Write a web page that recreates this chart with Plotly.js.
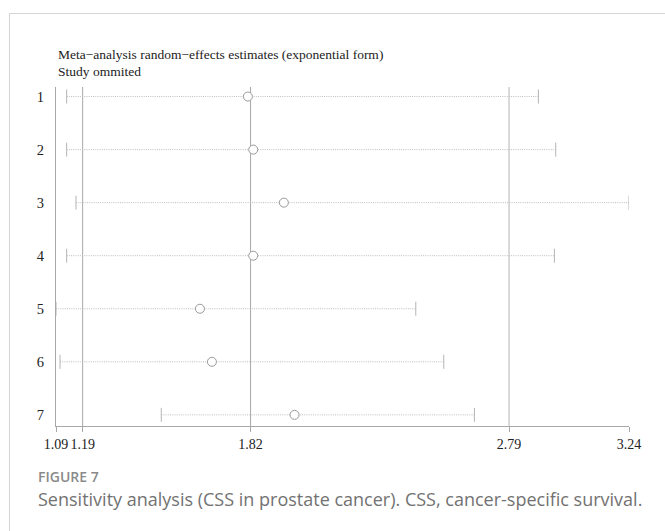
<!DOCTYPE html>
<html>
<head>
<meta charset="utf-8">
<script src="https://cdn.plot.ly/plotly-3.0.1.min.js"></script>
<style>
  html, body { margin: 0; padding: 0; background: #fff; }
  #frame { position: absolute; left: 9px; top: 13px; width: 680px; height: 540px;
           border-left: 1.5px solid #d4d4d4; border-top: 1.5px solid #d4d4d4; }
  #chart { position: absolute; left: 0; top: 0; width: 665px; height: 531px; }
</style>
</head>
<body>
<div id="frame"></div>
<div id="chart"></div>
<script>
// Study omitted (row labels)
const studies = [1, 2, 3, 4, 5, 6, 7];
// Pooled estimate when each study is omitted (exponential form)
const estimate = [1.81, 1.83, 1.945, 1.83, 1.63, 1.675, 1.985];
const lowerCI  = [1.13, 1.13, 1.165, 1.13, 1.09, 1.105, 1.485];
const upperCI  = [2.90, 2.965, 3.24, 2.96, 2.44, 2.545, 2.66];
// Overall combined estimate: lower CI, estimate, upper CI
const overall = [1.19, 1.82, 2.79];
// Axis ticks
const xTickVals = [1.09, 1.19, 1.82, 2.79, 3.24];
const xTickText = ["1.09", "1.19", "1.82", "2.79", "3.24"];

const ciX = [], ciY = [];
studies.forEach((s, i) => { ciX.push(lowerCI[i], upperCI[i], null); ciY.push(s, s, null); });

const serif = "Liberation Serif, serif";
const sans = "Open Sans, sans-serif";

const traces = [
  { x: ciX, y: ciY, mode: "lines", type: "scatter", hoverinfo: "skip",
    line: { color: "#bdbdbd", width: 1, dash: "1px,1.2px" } },
  { x: lowerCI.concat(upperCI), y: studies.concat(studies), mode: "markers", type: "scatter",
    marker: { symbol: "line-ns", size: 10, line: { color: "#b4b4b4", width: 1 } } },
  { x: estimate, y: studies, mode: "markers", type: "scatter",
    marker: { symbol: "circle", size: 9, color: "#ffffff", line: { color: "#999999", width: 1 } } }
];

const shapes = overall.map((v, i) => ({
  type: "line", xref: "x", yref: "paper", x0: v, x1: v, y0: 0, y1: 1, layer: "below",
  line: { color: i === 2 ? "#d0d0d0" : "#a8a8a8", width: i === 2 ? 1.6 : 1 }
}));

const plotH = 426 - 87;
const plotW = 629.5 - 55.6;
const annotations = [
  { text: "Meta\u2212analysis random\u2212effects estimates (exponential form)", xref: "paper", yref: "paper",
    x: 0.0, y: 1 + (87 - 54) / plotH, xanchor: "left", yanchor: "middle", showarrow: false,
    font: { family: serif, size: 13.5, color: "#222" } },
  { text: "Study ommited", xref: "paper", yref: "paper",
    x: 0.0, y: 1 + (87 - 71.5) / plotH, xanchor: "left", yanchor: "middle", showarrow: false,
    font: { family: serif, size: 13.5, color: "#222" } },
  { text: "FIGURE 7", xref: "paper", yref: "paper",
    x: (36 - 55.6) / plotW, y: -(476 - 426) / plotH, xanchor: "left", yanchor: "middle", showarrow: false,
    font: { family: sans, size: 14, weight: 600, color: "#8a8a8a" } },
  { text: "Sensitivity analysis (CSS in prostate cancer). CSS, cancer-specific survival.", xref: "paper", yref: "paper",
    x: (36 - 55.6) / plotW, y: -(499 - 426) / plotH, xanchor: "left", yanchor: "middle", showarrow: false,
    font: { family: sans, size: 18, color: "#727272" } }
];

const layout = {
  width: 665, height: 531,
  margin: { l: 55.6, r: 35.5, t: 87, b: 105 },
  paper_bgcolor: "rgba(0,0,0,0)", plot_bgcolor: "rgba(0,0,0,0)",
  showlegend: false,
  xaxis: { range: [1.09, 3.24], tickvals: xTickVals, ticktext: xTickText,
    showline: true, linecolor: "#a8a8a8", linewidth: 1, ticks: "outside", ticklen: 5,
    tickcolor: "#a8a8a8", showgrid: false, zeroline: false,
    tickfont: { family: serif, size: 14, color: "#222" } },
  yaxis: { range: [7.21, 0.82], tickvals: studies, ticktext: studies.map(String),
    showline: true, linecolor: "#a8a8a8", linewidth: 1, ticks: "", showgrid: false, zeroline: false,
    ticklabelstandoff: 8, tickfont: { family: serif, size: 14.5, color: "#222" } },
  shapes: shapes,
  annotations: annotations
};

Plotly.newPlot("chart", traces, layout, { displayModeBar: false, staticPlot: true });
</script>
</body>
</html>
